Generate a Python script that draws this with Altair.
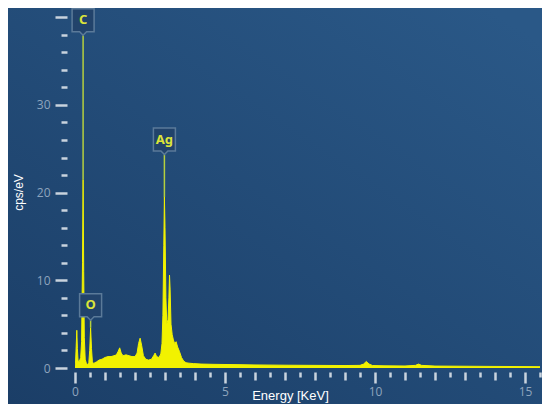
import altair as alt
import pandas as pd

# ---- spectrum ----
energy_kev = [0.00, 0.02, 0.04, 0.06, 0.08, 0.10, 0.12, 0.15, 0.19, 0.22, 0.25, 0.27, 0.29, 0.31,
              0.34, 0.38, 0.42, 0.46, 0.49, 0.52, 0.55, 0.58, 0.62, 0.66, 0.72, 0.80, 0.90, 1.00,
              1.10, 1.20, 1.30, 1.38, 1.44, 1.49, 1.54, 1.60, 1.70, 1.80, 1.90, 2.00, 2.07, 2.12,
              2.17, 2.22, 2.28, 2.36, 2.45, 2.55, 2.62, 2.67, 2.72, 2.80, 2.86, 2.90, 2.93, 2.96,
              2.98, 3.00, 3.03, 3.06, 3.10, 3.13, 3.15, 3.17, 3.20, 3.24, 3.28, 3.32, 3.37, 3.42,
              3.48, 3.55, 3.62, 3.70, 3.80, 3.95, 4.20, 4.60, 5.00, 5.50, 6.00, 7.00, 8.00, 9.00,
              9.50, 9.62, 9.71, 9.80, 9.92, 10.30, 11.00, 11.35, 11.45, 11.55, 12.00, 13.00,
              14.00, 15.00, 15.50]
cps_per_ev = [0.2, 0.8, 2.5, 4.3, 2.2, 0.9, 0.7, 0.8, 1.2, 3.0, 12.0, 21.5, 11.0, 3.5,
              1.0, 0.5, 0.4, 0.6, 2.0, 4.6, 2.2, 0.7, 0.5, 0.6, 0.7, 0.9, 1.0, 1.2,
              1.3, 1.3, 1.4, 1.5, 1.9, 2.3, 1.7, 1.4, 1.5, 1.4, 1.3, 1.3, 1.7, 2.8,
              3.4, 2.6, 1.4, 1.0, 0.9, 1.0, 1.4, 1.7, 1.3, 1.2, 1.6, 2.8, 6.0, 14.0,
              19.5, 16.0, 8.0, 5.0, 5.5, 8.0, 10.6, 9.0, 5.0, 3.8, 3.2, 2.8, 3.0, 2.4,
              1.9, 1.2, 0.8, 0.6, 0.55, 0.5, 0.45, 0.42, 0.4, 0.38, 0.35, 0.32, 0.3, 0.28,
              0.3, 0.45, 0.75, 0.45, 0.28, 0.25, 0.23, 0.3, 0.45, 0.3, 0.22, 0.2,
              0.18, 0.16, 0.15]

# ---- element markers ----
elements = ["C", "O", "Ag"]
element_energy = [0.27, 0.52, 2.98]
element_peak = [21.5, 4.6, 19.5]
element_label_level = [39.6, 7.1, 26.0]

# ---- ticks ----
x_tick_values = [i / 2 for i in range(0, 32)]
y_tick_values = list(range(0, 41, 2))

spec = pd.DataFrame({"E": energy_kev, "cps": cps_per_ev})
ann = pd.DataFrame({"E": element_energy, "el": elements, "peak": element_peak,
                    "ly": element_label_level})
ann["ptr"] = ann["ly"] - 1.65

LABEL_COLOR = "#8ea4bd"
TICK_COLOR = "#c9d3de"
YELLOW = "#f2f200"

x_scale = alt.Scale(domain=[0, 15.5], nice=False, zero=False)
y_scale = alt.Scale(domain=[0, 40.6], nice=False)

x_axis = alt.Axis(
    values=x_tick_values, offset=4, domain=False, grid=False, zindex=1,
    tickSize=11, tickWidth=2.5, tickColor=TICK_COLOR,
    tickDash={"condition": [{"test": "datum.value % 5 === 0", "value": [11, 0]},
                            {"test": "datum.value % 1 === 0", "value": [8, 30]}],
              "value": [5, 30]},
    labelExpr="datum.value % 5 === 0 ? format(datum.value, 'd') : ''",
    labelFont="Open Sans", labelFontSize=12, labelColor=LABEL_COLOR, labelPadding=3,
    labelFlush=False, labelOverlap=False,
    title="Energy [KeV]", titleFont="Liberation Sans", titleFontSize=13,
    titleFontWeight="normal", titleColor="#ffffff",
    titleX=215, titleY=27, titleAlign="center", titleBaseline="alphabetic",
)
y_axis = alt.Axis(
    values=y_tick_values, offset=8, domain=False, grid=False, zindex=1,
    tickSize=12, tickWidth=2.5, tickColor=TICK_COLOR,
    tickDash={"condition": {"test": "datum.value % 10 === 0", "value": [12, 0]},
              "value": [6, 30]},
    labelExpr="(datum.value % 10 === 0 && datum.value < 40) ? format(datum.value, 'd') : ''",
    labelFont="Open Sans", labelFontSize=12, labelColor=LABEL_COLOR, labelPadding=5,
    labelOverlap=False,
    title="cps/eV", titleFont="Liberation Sans", titleFontSize=12,
    titleFontWeight="normal", titleColor="#ffffff",
    titleX=-49, titleY=180, titleAngle=270, titleAlign="center", titleBaseline="middle",
)

X = alt.X("E:Q", scale=x_scale, axis=x_axis)

bg = alt.Chart(pd.DataFrame({"a": [0]})).mark_rect(
    fill=alt.LinearGradient(
        gradient="linear",
        stops=[alt.GradientStop(color="#1b3e67", offset=0),
               alt.GradientStop(color="#2a5887", offset=1)],
        x1=0, y1=1, x2=0.9, y2=0,
    )
).encode(x=alt.value(-67), x2=alt.value(467), y=alt.value(-4), y2=alt.value(392))

area = alt.Chart(spec).mark_area(
    color=YELLOW, stroke=YELLOW, strokeWidth=1, interpolate="linear", clip=True
).encode(x=X, y=alt.Y("cps:Q", scale=y_scale, axis=y_axis))

rules = alt.Chart(ann).mark_rule(color="#b5cf3e", strokeWidth=1.5).encode(
    x=X, y=alt.Y("ptr:Q", scale=y_scale, axis=y_axis), y2="peak:Q"
)

box_path = "M-1.1,-1.2L1.1,-1.2L1.1,1.1L0.35,1.1L0,1.45L-0.35,1.1L-1.1,1.1Z"
boxes = alt.Chart(ann).mark_point(
    shape=box_path, size=400, filled=True, fill="#22436b", stroke="#5b7a99",
    strokeWidth=1.5, opacity=1
).encode(x=X, y=alt.Y("ly:Q", scale=y_scale, axis=y_axis))

texts = alt.Chart(ann).mark_text(
    color="#dce43a", font="Noto Sans", fontSize=13, fontWeight="bold",
    baseline="middle", align="center", dy=-0.5
).encode(x=X, y=alt.Y("ly:Q", scale=y_scale, axis=y_axis), text="el:N")

chart = alt.layer(bg, area, rules, boxes, texts).properties(
    width=465, height=356,
    autosize=alt.AutoSizeParams(type="none"),
    padding={"left": 67, "top": 4, "right": 2, "bottom": 36},
    background="#1f4877",
).configure_view(stroke=None)

chart.save("out.html", embed_options={"renderer": "svg", "actions": False})
